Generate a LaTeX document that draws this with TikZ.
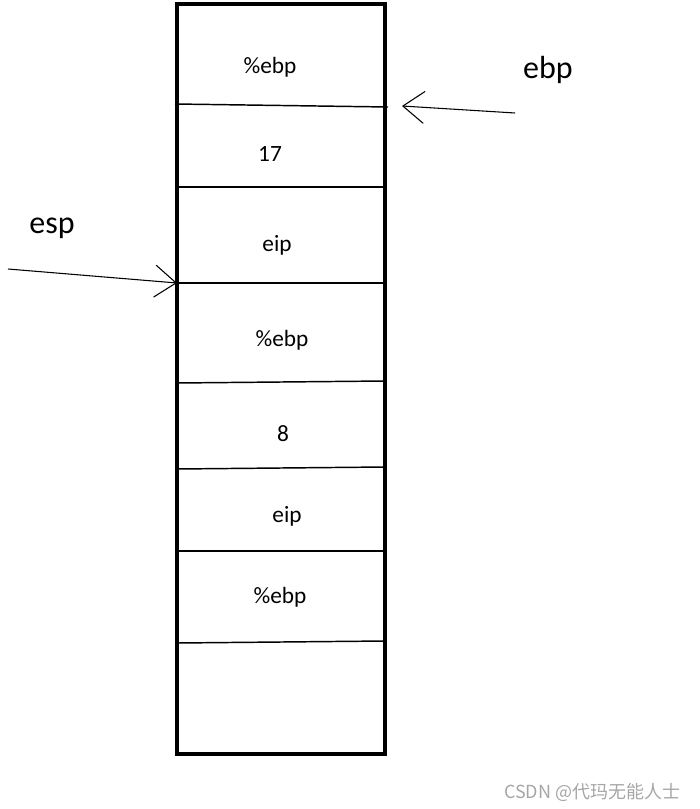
\documentclass[tikz,border=0pt]{standalone}
\usepackage{fontspec}
\setmainfont{Carlito}
\newfontfamily\cjkfont{Noto Sans CJK SC}
\usetikzlibrary{arrows.meta}
\begin{document}
\begin{tikzpicture}[x=0.75pt,y=-0.75pt,
  cell/.style={font=\fontsize{17.5}{20}\selectfont},
  reg/.style={font=\fontsize{24}{27}\selectfont},
  sep/.style={line width=1.1pt},
  ptr/.style={line width=0.8pt,-{Straight Barb[length=16,width=24,line width=0.8pt]}}]
\useasboundingbox (0,0) rectangle (699,809);
\draw[line width=2.4pt] (177,4) rectangle (385,754);
\coordinate (l1a) at (175,104); \coordinate (l1b) at (388,107);
\draw[sep] (l1a) -- (l1b);
\draw[sep] (177,187) -- (385,187);
\draw[sep] (177,283) -- (385,283);
\draw[sep] (177,383) -- (385,381);
\draw[sep] (177,469) -- (385,467);
\draw[sep] (177,551) -- (385,551);
\draw[sep] (177,643) -- (385,641);
\node[cell] (t1) at (270,67) {\%ebp};
\node[cell] (t2) at (270,154) {17};
\node[cell] (t3) at (277,245) {eip};
\node[cell] (t4) at (282,340) {\%ebp};
\node[cell] (t5) at (283,434) {8};
\node[cell] (t6) at (287,516) {eip};
\node[cell] (t7) at (280,597) {\%ebp};
\node[reg] (ebp) at (548,70) {ebp};
\node[reg] (esp) at (52,228) {esp};
\coordinate (ebpS) at (515,113); \coordinate (ebpE) at (402,106);
\coordinate (espS) at (8,269); \coordinate (espE) at (177,283);
\draw[ptr] (ebpS) -- (ebpE);
\draw[ptr] (espS) -- (espE);
\node[text=gray!70,font=\cjkfont\fontsize{13.5}{15}\selectfont,anchor=east] (wm) at (685,792) {CSDN @代玛无能人士};
\end{tikzpicture}
\end{document}
